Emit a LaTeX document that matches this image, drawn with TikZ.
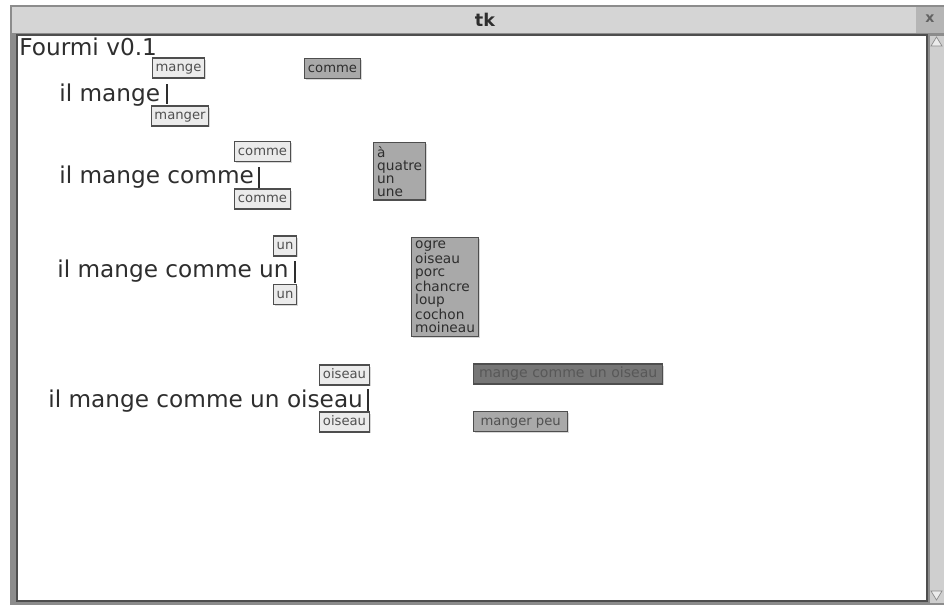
\documentclass[tikz,border=0pt]{standalone}
\usepackage{fontspec}
\setmainfont{DejaVu Sans}
\usetikzlibrary{positioning,shadows}
\definecolor{tkInk}{HTML}{2E2E2E}
\definecolor{tkText}{HTML}{505050}
\definecolor{tkEdge}{HTML}{4E4E4E}
\definecolor{tkFrame}{HTML}{8C8C8C}
\definecolor{tkBar}{HTML}{D5D5D5}
\definecolor{tkTrough}{HTML}{CFCFCF}
\definecolor{tkLight}{HTML}{EBEBEB}
\definecolor{tkMid}{HTML}{A9A9A9}
\definecolor{tkDark}{HTML}{767676}
\tikzset{
  tk-base/.style={
    draw=tkEdge, line width=0.8pt, fill=tkLight,
    font=\fontsize{7.5}{8}\selectfont, text=tkText,
    drop shadow={shadow xshift=0.8pt, shadow yshift=-0.8pt, opacity=.3}
  },
  tk-sug/.style={tk-base, inner xsep=1.8pt, inner ysep=1.9pt,
    text height=5.8pt, text depth=1.6pt},
  tk-next/.style={tk-sug, fill=tkMid, text=tkInk},
  tk-list/.style={tk-base, fill=tkMid, text=tkInk, align=left,
    font=\fontsize{7.8}{7.4}\selectfont, anchor=north west, inner sep=2pt},
  tk-phrase/.style={tk-sug, fill=tkDark, text=tkInk!80, anchor=west},
  tk-word/.style={anchor=base west, inner sep=0pt,
    font=\fontsize{13.2}{15}\selectfont, text=tkInk},
  tk-caret/.style={line width=1.1pt, draw=tkInk}
}

\begin{document}
\begin{tikzpicture}[x=0.02cm, y=-0.02cm]
\useasboundingbox (0,0) rectangle (944,605);
\fill[white] (0,0) rectangle (944,605);

% Window
\fill[tkFrame] (10,5) rectangle (944,605);
\fill[tkBar] (12,7) rectangle (944,33);
\fill[tkBar!85!black] (916,7) rectangle (944,33);
\node[font=\bfseries\fontsize{10}{12}\selectfont, text=tkInk] (title) at (485,20) {tk};
\node[font=\bfseries\fontsize{8}{9}\selectfont, text=tkInk!75] (close) at (930,19) {x};
\fill[white, draw=tkEdge, line width=1pt] (17,35) rectangle (927,601);

% Scrollbar
\fill[tkTrough, draw=tkFrame, line width=0.5pt] (929,35) rectangle (944,603);
\draw[tkFrame, fill=tkLight, line width=0.4pt] (931,46) -- (936.5,37) -- (942,46) -- cycle;
\draw[tkFrame, fill=tkLight, line width=0.4pt] (931,591) -- (936.5,600) -- (942,591) -- cycle;

\node[tk-word] (app) at (19,55) {Fourmi v0.1};

% il mange
\node[tk-word] (s1) at (59,101) {il mange};
\draw[tk-caret] (167,84) -- (167,104);
\node[tk-sug] (s1up) at (178.5,68) {mange};
\node[tk-sug] (s1dn) at (180,116) {manger};
\node[tk-next] (s1nx) at (332.5,68.5) {comme};

% il mange comme
\node[tk-word] (s2) at (59,183) {il mange comme};
\draw[tk-caret] (259,167) -- (259,189);
\node[tk-sug] (s2up) at (262.5,151.5) {comme};
\node[tk-sug] (s2dn) at (262.5,199) {comme};
\node[tk-list] (s2nx) at (373,142) {à\\quatre\\un\\une};

% il mange comme un
\node[tk-word] (s3) at (57,277) {il mange comme un};
\draw[tk-caret] (295,261) -- (295,283);
\node[tk-sug] (s3up) at (285,246) {un};
\node[tk-sug] (s3dn) at (285,294.5) {un};
\node[tk-list] (s3nx) at (411,237)
  {ogre\\oiseau\\porc\\chancre\\loup\\cochon\\moineau};

% il mange comme un oiseau
\node[tk-word] (s4) at (48,407) {il mange comme un oiseau};
\draw[tk-caret] (368,389) -- (368,412);
\node[tk-sug] (s4up) at (344.5,375) {oiseau};
\node[tk-sug] (s4dn) at (344.5,422) {oiseau};
\node[tk-phrase, minimum width=3.78cm, font=\fontsize{8}{9}\selectfont]
  (s4nx) at (473,374) {mange comme un oiseau};
\node[tk-phrase, fill=tkMid, text=tkText, minimum width=1.88cm]
  (s4pe) at (473,421.5) {manger peu};
\end{tikzpicture}
\end{document}
